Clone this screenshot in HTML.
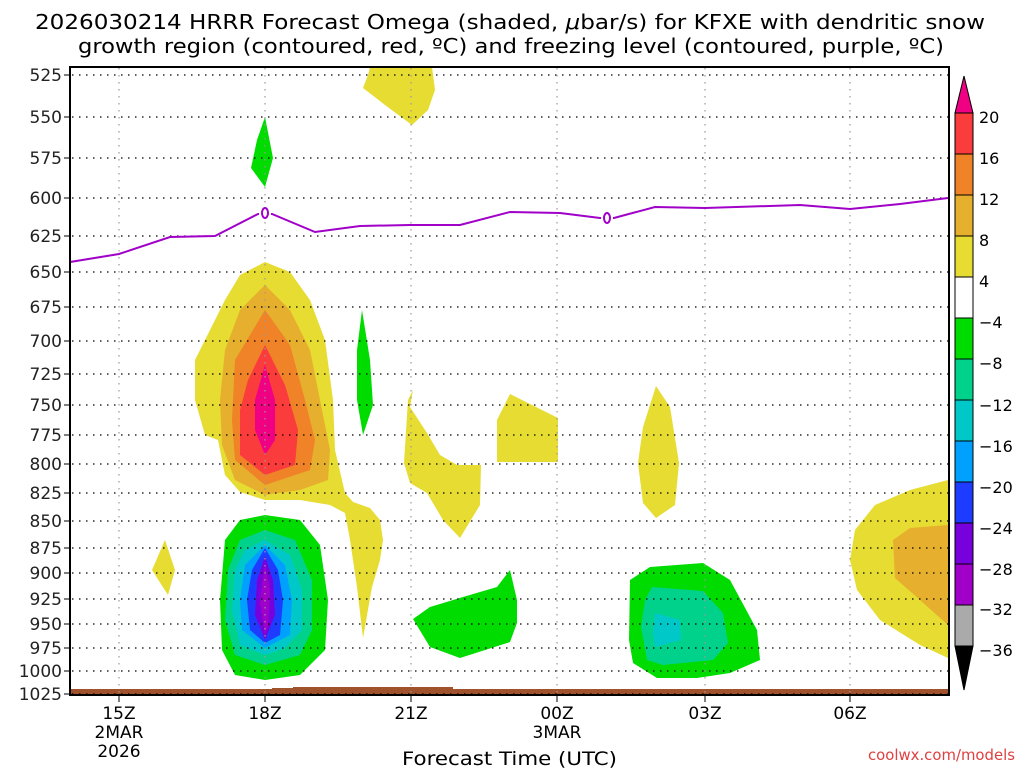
<!DOCTYPE html>
<html><head><meta charset="utf-8"><style>
html,body{margin:0;padding:0;background:#fff;}
svg{display:block;font-family:"DejaVu Sans","Liberation Sans",sans-serif;}
</style></head><body>
<svg width="1024" height="768" viewBox="0 0 1024 768" xmlns="http://www.w3.org/2000/svg">
<rect width="1024" height="768" fill="#fff"/>
<text x="35" y="29" font-size="20" textLength="950" lengthAdjust="spacingAndGlyphs" fill="#000">2026030214 HRRR Forecast Omega (shaded, <tspan font-style="italic">μ</tspan>bar/s) for KFXE with dendritic snow</text>
<text x="78" y="53" font-size="20" textLength="866" lengthAdjust="spacingAndGlyphs" fill="#000">growth region (contoured, red, ºC) and freezing level (contoured, purple, ºC)</text>

<g stroke="none">
<polygon fill="#e6dc32" points="370,67 432,67 435,90 428,110 412,125 385,105 363,88 368,75"/>
<polygon fill="#00dc00" points="265,117 273,158 265,187 251,168 257,140"/>
<polygon fill="#e6dc32" points="265,262 290,272 310,300 325,340 333,400 335,450 345,493 353,502 370,508 380,520 383,540 380,560 372,587 363,638 357,587 350,540 345,513 330,505 300,500 265,500 240,492 225,475 218,440 205,435 195,400 195,360 210,330 225,300 240,275"/>
<polygon fill="#e6af2d" points="265,285 290,310 310,350 320,400 330,450 328,480 300,490 265,495 235,480 222,445 220,400 225,350 240,310"/>
<polygon fill="#f08228" points="265,310 290,345 305,400 315,440 310,470 265,485 235,460 232,420 235,360"/>
<polygon fill="#fa3c3c" points="265,345 285,385 298,430 295,465 265,475 240,455 240,410 248,380"/>
<polygon fill="#f00082" points="265,365 275,400 275,440 265,455 255,430 255,400"/>
<polygon fill="#00dc00" points="265,515 300,520 320,545 328,600 325,650 300,675 265,680 235,675 222,650 220,600 225,540 240,520"/>
<polygon fill="#00d28c" points="265,530 295,540 312,580 312,630 300,655 265,665 235,655 225,620 228,570 240,540"/>
<polygon fill="#00c8c8" points="265,540 290,555 302,590 302,630 285,648 265,655 240,645 232,610 235,570 245,550"/>
<polygon fill="#00a0ff" points="265,545 285,565 292,600 290,635 265,648 242,630 240,600 245,565"/>
<polygon fill="#1e3cff" points="265,548 278,570 283,600 280,635 265,643 250,630 247,600 252,570"/>
<polygon fill="#7800dc" points="265,556 273,580 275,615 265,640 255,615 257,580"/>
<polygon fill="#a000c8" points="265,565 270,590 268,625 265,635 260,600"/>
<polygon fill="#00dc00" points="362,310 370,360 373,405 363,435 357,400 357,350"/>
<polygon fill="#e6dc32" points="165,540 175,570 168,595 152,570"/>
<polygon fill="#e6dc32" points="413,390 410,407 427,433 440,455 457,465 481,465 480,505 460,538 443,520 427,493 410,483 404,463 408,400"/>
<polygon fill="#e6dc32" points="497,420 510,394 558,418 558,462 497,462"/>
<polygon fill="#e6dc32" points="656,386 670,407 679,463 675,505 656,518 643,503 638,463 643,427"/>
<polygon fill="#00dc00" points="413,619 430,607 463,597 497,587 510,570 517,600 517,623 510,642 460,658 430,647"/>
<polygon fill="#00dc00" points="630,580 650,567 703,563 730,580 757,630 760,660 730,673 697,678 657,678 633,663 629,640"/>
<polygon fill="#00d28c" points="652,587 703,591 723,613 728,643 713,660 663,665 647,660 641,627 645,600"/>
<polygon fill="#00c8c8" points="655,613 680,620 681,640 655,647 653,633"/>
<polygon fill="#e6dc32" points="948,480 948,658 920,645 880,620 857,590 850,560 855,530 875,505 910,490"/>
<polygon fill="#e6af2d" points="948,525 948,625 920,600 895,578 893,540 910,528"/>
<polygon fill="#a0522d" points="70,689 272,689 272,688 293,688 293,687 453,687 453,689 948,689 948,695 70,695"/>
</g>

<g stroke="#000" stroke-width="1.2" stroke-dasharray="1.5,5.5">
<line x1="72" x2="948" y1="75" y2="75"/><line x1="72" x2="948" y1="117" y2="117"/>
<line x1="72" x2="948" y1="158" y2="158"/><line x1="72" x2="948" y1="198" y2="198"/>
<line x1="72" x2="948" y1="236" y2="236"/><line x1="72" x2="948" y1="272" y2="272"/>
<line x1="72" x2="948" y1="307" y2="307"/><line x1="72" x2="948" y1="341" y2="341"/>
<line x1="72" x2="948" y1="374" y2="374"/><line x1="72" x2="948" y1="405" y2="405"/>
<line x1="72" x2="948" y1="435" y2="435"/><line x1="72" x2="948" y1="464" y2="464"/>
<line x1="72" x2="948" y1="493" y2="493"/><line x1="72" x2="948" y1="521" y2="521"/>
<line x1="72" x2="948" y1="548" y2="548"/><line x1="72" x2="948" y1="573" y2="573"/>
<line x1="72" x2="948" y1="599" y2="599"/><line x1="72" x2="948" y1="624" y2="624"/>
<line x1="72" x2="948" y1="648" y2="648"/><line x1="72" x2="948" y1="671" y2="671"/>
<line x1="72" x2="948" y1="694" y2="694"/>
</g>
<g stroke="#999" stroke-width="1.2" stroke-dasharray="1.5,5.5">
<line x1="119" x2="119" y1="68" y2="694"/><line x1="265" x2="265" y1="68" y2="694"/>
<line x1="411" x2="411" y1="68" y2="694"/><line x1="557" x2="557" y1="68" y2="694"/>
<line x1="705" x2="705" y1="68" y2="694"/><line x1="850" x2="850" y1="68" y2="694"/>
</g>

<polyline fill="none" stroke="#a000c8" stroke-width="2" points="70,262 119,254 170,237 215,236 258,214 272,214 315,232 360,226 410,225 460,225 510,212 560,213 600,218 614,218 655,207 705,208 800,205 850,209 900,204 948,198"/>
<rect x="259" y="205" width="12" height="15" fill="#fff"/>
<ellipse cx="265" cy="213" rx="3" ry="5" fill="none" stroke="#a000c8" stroke-width="2"/>
<rect x="601" y="210" width="12" height="15" fill="#fff"/>
<ellipse cx="607" cy="218" rx="3" ry="5" fill="none" stroke="#a000c8" stroke-width="2"/>

<rect x="70" y="67" width="879" height="628" fill="none" stroke="#000" stroke-width="2"/>

<g font-size="17" text-anchor="end" fill="#222">
<text x="62" y="81">525</text><text x="62" y="123">550</text><text x="62" y="164">575</text>
<text x="62" y="204">600</text><text x="62" y="242">625</text><text x="62" y="278">650</text>
<text x="62" y="313">675</text><text x="62" y="347">700</text><text x="62" y="380">725</text>
<text x="62" y="411">750</text><text x="62" y="441">775</text><text x="62" y="470">800</text>
<text x="62" y="499">825</text><text x="62" y="527">850</text><text x="62" y="554">875</text>
<text x="62" y="579">900</text><text x="62" y="605">925</text><text x="62" y="630">950</text>
<text x="62" y="654">975</text><text x="62" y="677">1000</text><text x="62" y="700">1025</text>
</g>
<g stroke="#000" stroke-width="1">
<line x1="64" x2="70" y1="75" y2="75"/><line x1="64" x2="70" y1="117" y2="117"/><line x1="64" x2="70" y1="158" y2="158"/>
<line x1="64" x2="70" y1="198" y2="198"/><line x1="64" x2="70" y1="236" y2="236"/><line x1="64" x2="70" y1="272" y2="272"/>
<line x1="64" x2="70" y1="307" y2="307"/><line x1="64" x2="70" y1="341" y2="341"/><line x1="64" x2="70" y1="374" y2="374"/>
<line x1="64" x2="70" y1="405" y2="405"/><line x1="64" x2="70" y1="435" y2="435"/><line x1="64" x2="70" y1="464" y2="464"/>
<line x1="64" x2="70" y1="493" y2="493"/><line x1="64" x2="70" y1="521" y2="521"/><line x1="64" x2="70" y1="548" y2="548"/>
<line x1="64" x2="70" y1="573" y2="573"/><line x1="64" x2="70" y1="599" y2="599"/><line x1="64" x2="70" y1="624" y2="624"/>
<line x1="64" x2="70" y1="648" y2="648"/><line x1="64" x2="70" y1="671" y2="671"/><line x1="64" x2="70" y1="694" y2="694"/>
<line x1="119" x2="119" y1="695" y2="702"/><line x1="265" x2="265" y1="695" y2="702"/><line x1="411" x2="411" y1="695" y2="702"/>
<line x1="557" x2="557" y1="695" y2="702"/><line x1="705" x2="705" y1="695" y2="702"/><line x1="850" x2="850" y1="695" y2="702"/>
</g>
<g font-size="17" text-anchor="middle" fill="#000">
<text x="119" y="719">15Z</text><text x="119" y="738">2MAR</text><text x="119" y="757">2026</text>
<text x="265" y="719">18Z</text><text x="411" y="719">21Z</text>
<text x="557" y="719">00Z</text><text x="557" y="738">3MAR</text>
<text x="705" y="719">03Z</text><text x="850" y="719">06Z</text>
</g>
<text x="402" y="765" font-size="19" textLength="215" lengthAdjust="spacingAndGlyphs" fill="#000">Forecast Time (UTC)</text>
<text x="868" y="760" font-size="15" textLength="147" lengthAdjust="spacingAndGlyphs" fill="#e04040">coolwx.com/models</text>

<g stroke="#000" stroke-width="1">
<polygon fill="#f00082" points="964,76 955,113 973,113"/>
<rect x="955" y="113" width="18" height="41" fill="#fa3c3c"/>
<rect x="955" y="154" width="18" height="41" fill="#f08228"/>
<rect x="955" y="195" width="18" height="41" fill="#e6af2d"/>
<rect x="955" y="236" width="18" height="41" fill="#e6dc32"/>
<rect x="955" y="277" width="18" height="41" fill="#fff"/>
<rect x="955" y="318" width="18" height="41" fill="#00dc00"/>
<rect x="955" y="359" width="18" height="41" fill="#00d28c"/>
<rect x="955" y="400" width="18" height="41" fill="#00c8c8"/>
<rect x="955" y="441" width="18" height="41" fill="#00a0ff"/>
<rect x="955" y="482" width="18" height="41" fill="#1e3cff"/>
<rect x="955" y="523" width="18" height="41" fill="#7800dc"/>
<rect x="955" y="564" width="18" height="41" fill="#a000c8"/>
<rect x="955" y="605" width="18" height="41" fill="#aaaaaa"/>
<polygon fill="#000" points="955,646 973,646 964,690"/>
</g>
<g font-size="16" fill="#000">
<text x="979" y="123">20</text><text x="979" y="164">16</text><text x="979" y="205">12</text>
<text x="979" y="246">8</text><text x="979" y="287">4</text><text x="979" y="328">−4</text>
<text x="979" y="369">−8</text><text x="979" y="411">−12</text><text x="979" y="452">−16</text>
<text x="979" y="493">−20</text><text x="979" y="534">−24</text><text x="979" y="575">−28</text>
<text x="979" y="615">−32</text><text x="979" y="656">−36</text>
</g>
</svg>
</body></html>
